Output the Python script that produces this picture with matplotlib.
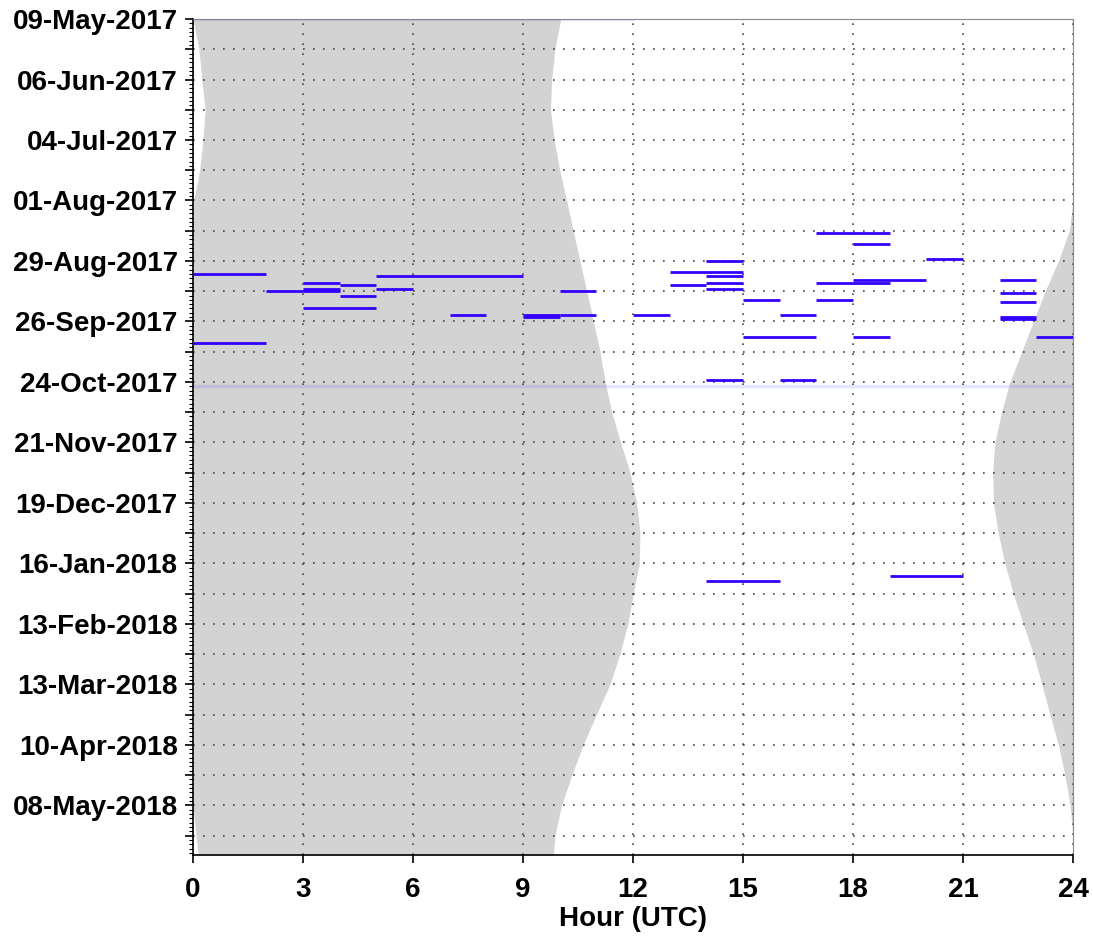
#!/usr/bin/env python
"""Observation times vs. date with night shading (UTC)"""

# %% import modules
import numpy as np
import pandas as pd
import matplotlib
matplotlib.use("Agg")
import matplotlib.pyplot as plt
import matplotlib.dates as mdates

# %% data
# sunrise / sunset (hours UTC, sunset > 24 means after midnight) every 14 days
sun_dates = list(pd.date_range("2017-05-09", periods=28, freq="14D")) + [pd.Timestamp("2018-05-31")]
sunrise_utc = [10.03, 9.87, 9.78, 9.75, 9.85, 10.00, 10.19, 10.37, 10.55, 10.74,
               10.92, 11.10, 11.24, 11.42, 11.66, 11.92, 12.10, 12.19, 12.17, 12.01,
               11.86, 11.64, 11.37, 11.00, 10.64, 10.33, 10.05, 9.87, 9.83]
sunset_utc = [23.97, 24.16, 24.24, 24.33, 24.27, 24.18, 24.02, 23.90, 23.60, 23.24,
              22.92, 22.60, 22.28, 22.05, 21.87, 21.81, 21.83, 21.96, 22.14, 22.37,
              22.64, 22.92, 23.15, 23.37, 23.60, 23.78, 23.92, 24.08, 24.14]

# observation segments: date, start hour, end hour
seg_dates = ["2017-09-04", "2017-09-12", "2017-09-08", "2017-09-11", "2017-09-12",
             "2017-09-09", "2017-09-14", "2017-09-05", "2017-09-11", "2017-09-20",
             "2017-10-06", "2017-09-23", "2017-09-23", "2017-09-24", "2017-09-23",
             "2017-09-12", "2017-09-23",
             "2017-08-16", "2017-08-21", "2017-08-29", "2017-09-03", "2017-09-05",
             "2017-09-09", "2017-09-08", "2017-09-11", "2017-09-16", "2017-09-23",
             "2017-09-08", "2017-09-16", "2017-09-07", "2017-09-08", "2017-08-28",
             "2017-10-03", "2017-10-03", "2017-09-07", "2017-09-13", "2017-09-17",
             "2017-09-24", "2017-09-25", "2017-10-03", "2017-10-23", "2017-10-23",
             "2018-01-24", "2018-01-22"]
seg_start = [0, 2, 3, 3, 3,
             4, 4, 5, 5, 3,
             0, 7, 9, 9, 10,
             10, 12,
             17, 18, 14, 13, 14,
             13, 14, 14, 15, 16,
             17, 17, 18, 18, 20,
             15, 18, 22, 22, 22,
             22, 22, 23, 14, 16,
             14, 19]
seg_end = [2, 3, 4, 4, 4,
           5, 5, 9, 6, 5,
           2, 8, 10, 10, 11,
           11, 13,
           19, 19, 15, 15, 15,
           14, 15, 15, 16, 17,
           18, 18, 20, 19, 21,
           17, 19, 23, 23, 23,
           23, 23, 24, 15, 17,
           16, 21]

# faint marker lines
faint_dates = ["2017-05-09", "2017-10-26"]
faint_start = [0, 0]
faint_end = [12, 24]

# %% plot
plt.rcParams["font.family"] = ["Liberation Sans", "DejaVu Sans"]
plt.rcParams["font.weight"] = "bold"
fig = plt.figure(figsize=(10.93, 9.38), dpi=100)
ax = fig.add_axes([0.1766, 0.0885, 0.8051, 0.8912])

sun_y = mdates.date2num(sun_dates)
sunset = np.array(sunset_utc)
ax.fill_betweenx(sun_y, np.clip(sunset - 24, 0, None), sunrise_utc, color="#d3d3d3", lw=0, zorder=1)
ax.fill_betweenx(sun_y, np.minimum(sunset, 24), 24, color="#d3d3d3", lw=0, zorder=1)

ax.hlines(mdates.date2num(pd.to_datetime(faint_dates)), faint_start, faint_end,
          color="#5050ff", alpha=0.15, lw=2.5, zorder=2)
ax.hlines(mdates.date2num(pd.to_datetime(seg_dates)), seg_start, seg_end,
          color="#3300ff", lw=2, zorder=3)

ax.set_xlim(0, 24)
ax.set_ylim(mdates.date2num(pd.Timestamp("2018-05-31")), mdates.date2num(pd.Timestamp("2017-05-09")))
ax.set_xticks(range(0, 25, 3))

ticks = pd.date_range("2017-05-09", "2018-05-31", freq="14D")
ax.set_yticks(mdates.date2num(ticks))
ax.set_yticklabels([t.strftime("%d-%b-%Y") if i % 2 == 0 else "" for i, t in enumerate(ticks)])
ax.set_yticks(mdates.date2num(pd.date_range("2017-05-09", "2018-05-31", freq="2D")), minor=True)

ax.grid(True, which="major", color="#444444", linestyle=(0, (1, 5)), lw=1.2)
ax.tick_params(axis="both", which="major", labelsize=20, length=6, width=1.2, direction="out")
ax.tick_params(axis="y", which="major", pad=5)
ax.tick_params(axis="x", which="major", pad=10)
ax.tick_params(axis="y", which="minor", length=3, width=0.8)
for side in ["left", "bottom"]:
    ax.spines[side].set_linewidth(1.2)
for side in ["top", "right"]:
    ax.spines[side].set_linewidth(0.8)
    ax.spines[side].set_color("#888888")

ax.set_xlabel("Hour (UTC)", fontsize=20, fontweight="bold", labelpad=2)

plt.savefig("out.png", dpi=100)
plt.close()
